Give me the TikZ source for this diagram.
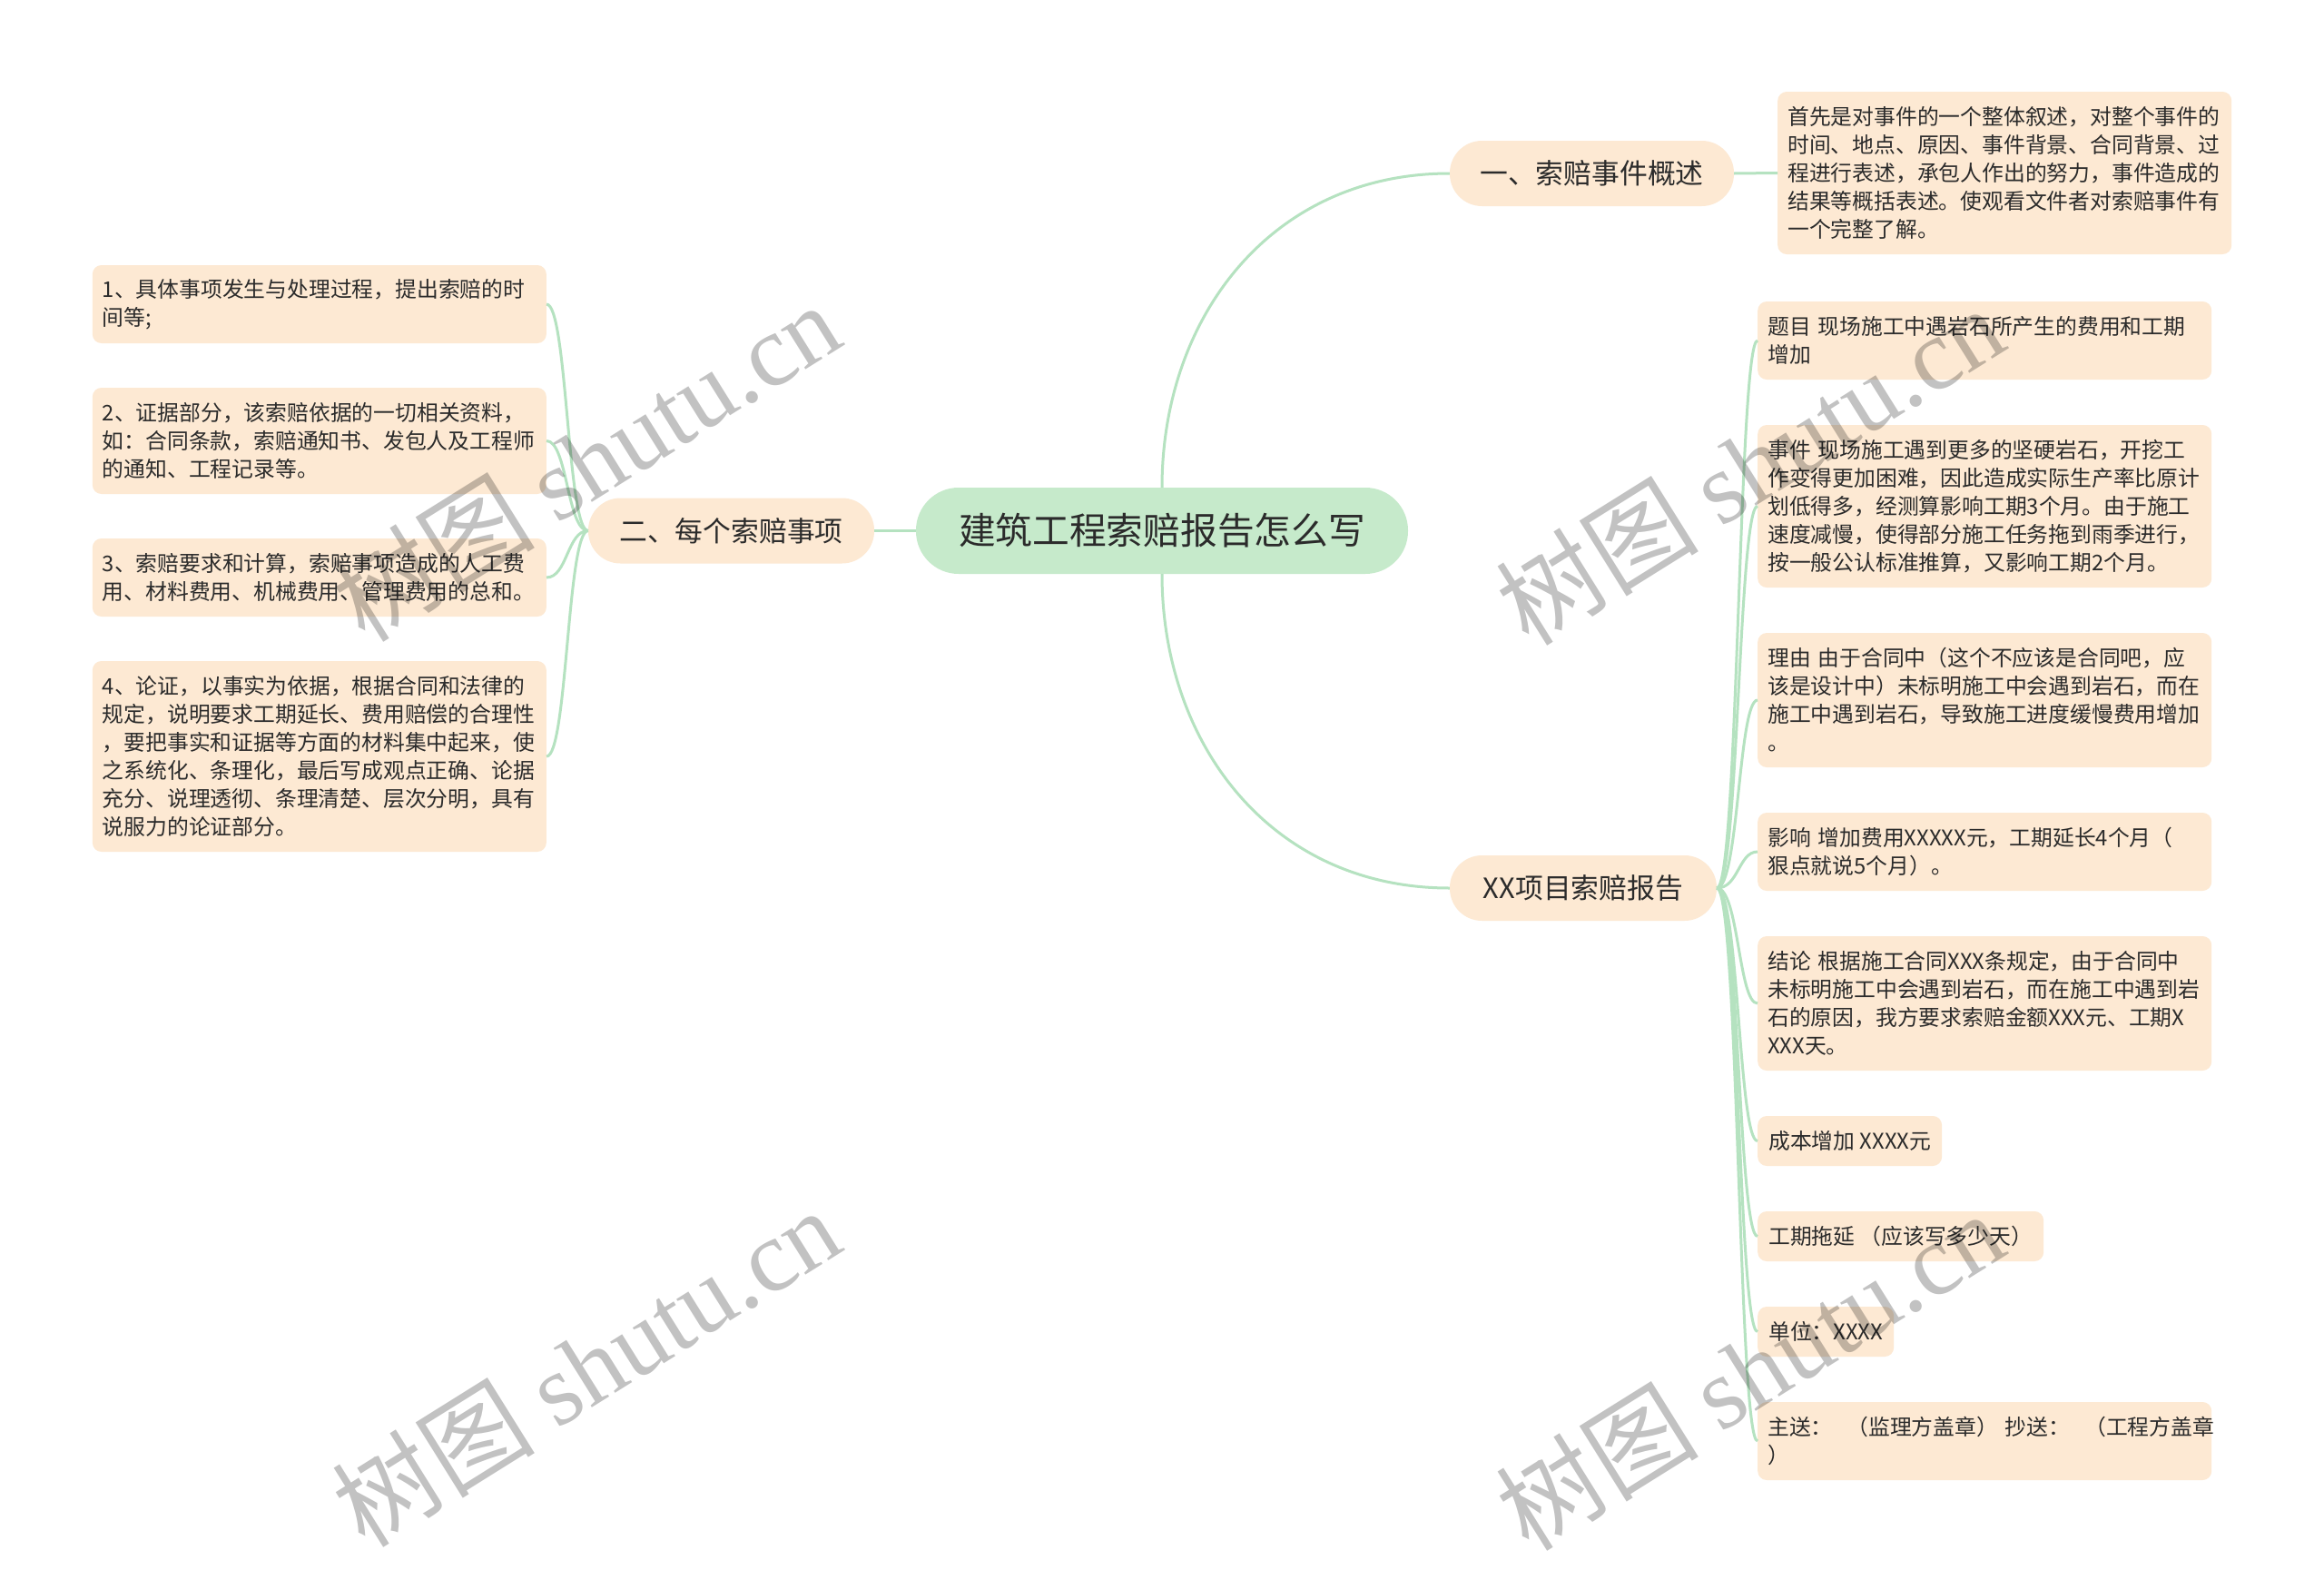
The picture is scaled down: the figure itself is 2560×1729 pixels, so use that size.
\documentclass[tikz,border=0pt]{standalone}
\usepackage{fontspec}
\setmainfont{Noto Sans CJK SC}
\newfontfamily\wmserif{Liberation Serif}
\definecolor{peach}{HTML}{FDE9D3}
\definecolor{rootgreen}{HTML}{C6EACB}
\definecolor{linkgreen}{HTML}{B5E2C0}
\definecolor{ink}{HTML}{2B2B2B}
\begin{document}
\begin{tikzpicture}[x=1pt,y=-1pt,
  every node/.style={text=ink},
  leaf/.style={fill=peach, rounded corners=10pt, inner xsep=11pt, inner ysep=0pt,
    text width=478pt, align=left, minimum height=#1,
    font=\fontsize{23.8pt}{31pt}\selectfont},
  leafs/.style={fill=peach, rounded corners=10pt, inner xsep=12pt, inner ysep=0pt,
    minimum height=55pt, anchor=west, font=\fontsize{23.8pt}{31pt}\selectfont},
  topic/.style={fill=peach, rounded corners=35.5pt, minimum height=72pt,
    minimum width=#1, inner sep=0pt, font=\fontsize{30.8pt}{36pt}\selectfont},
  rootbox/.style={fill=rootgreen, rounded corners=47pt, minimum height=95pt,
    minimum width=542pt, inner sep=0pt, font=\fontsize{40.7pt}{46pt}\selectfont},
  link/.style={draw=linkgreen, line width=3pt},
  wm/.style={text=black, text opacity=0.24, rotate=32,
    font=\fontsize{112pt}{124pt}\selectfont, inner sep=0pt}
]
\fill[white] (0,0) rectangle (2560,1729);
\path[use as bounding box] (0,0) rectangle (2560,1729);

% root and main topics
\node[rootbox] (root) at (1280,584.5) {建筑工程索赔报告怎么写};
\node[topic=315pt] (n2) at (805.5,584.5) {二、每个索赔事项};
\node[topic=313pt] (n1) at (1753.5,191) {一、索赔事件概述};
\node[topic=294pt] (xx) at (1744,978) {XX项目索赔报告};

% detail of topic 1
\node[leaf=179pt, anchor=west] (d1) at (1958,190.5) {首先是对事件的一个整体叙述，对整个事件的\\时间、地点、原因、事件背景、合同背景、过\\程进行表述，承包人作出的努力，事件造成的\\结果等概括表述。使观看文件者对索赔事件有\\一个完整了解。};

% right column
\node[leaf=86pt, anchor=west] (r1) at (1936,375) {题目~现场施工中遇岩石所产生的费用和工期\\增加};
\node[leaf=179pt, anchor=west] (r2) at (1936,557.5) {事件~现场施工遇到更多的坚硬岩石，开挖工\\作变得更加困难，因此造成实际生产率比原计\\划低得多，经测算影响工期3个月。由于施工\\速度减慢，使得部分施工任务拖到雨季进行，\\按一般公认标准推算，又影响工期2个月。};
\node[leaf=148pt, anchor=west] (r3) at (1936,771) {理由~由于合同中（这个不应该是合同吧，应\\该是设计中）未标明施工中会遇到岩石，而在\\施工中遇到岩石，导致施工进度缓慢费用增加\\。};
\node[leaf=86pt, anchor=west] (r4) at (1936,938) {影响~增加费用XXXXX元，工期延长4个月（\\狠点就说5个月）。};
\node[leaf=148pt, anchor=west] (r5) at (1936,1105) {结论~根据施工合同XXX条规定，由于合同中\\未标明施工中会遇到岩石，而在施工中遇到岩\\石的原因，我方要求索赔金额XXX元、工期X\\XXX天。};
\node[leafs] (r6) at (1936,1256.5) {成本增加 XXXX元};
\node[leafs] (r7) at (1936,1361.5) {工期拖延 （应该写多少天）};
\node[leafs] (r8) at (1936,1466.5) {单位：XXXX};
\node[leaf=86pt, anchor=west] (r9) at (1936,1587) {主送：~~（监理方盖章）~抄送：~~（工程方盖章\\）};

% left column
\node[leaf=86pt, anchor=east] (l1) at (602,335) {1、具体事项发生与处理过程，提出索赔的时\\间等;};
\node[leaf=117pt, anchor=east] (l2) at (602,485.5) {2、证据部分，该索赔依据的一切相关资料，\\如：合同条款，索赔通知书、发包人及工程师\\的通知、工程记录等。};
\node[leaf=86pt, anchor=east] (l3) at (602,636) {3、索赔要求和计算，索赔事项造成的人工费\\用、材料费用、机械费用、管理费用的总和。};
\node[leaf=210pt, anchor=east] (l4) at (602,833) {4、论证，以事实为依据，根据合同和法律的\\规定，说明要求工期延长、费用赔偿的合理性\\，要把事实和证据等方面的材料集中起来，使\\之系统化、条理化，最后写成观点正确、论据\\充分、说理透彻、条理清楚、层次分明，具有\\说服力的论证部分。};

% connectors
\draw[link] (root.north) .. controls +(0,-187) and +(-197,0) .. (n1.west);
\draw[link] (root.south) .. controls +(0,187) and +(-197,0) .. (xx.west);
\draw[link] (root.west) -- (n2.east);
\draw[link] (n1.east) -- (d1.west);
\foreach \c in {r1,r2,r3,r4,r5,r6,r7,r8,r9}
  \draw[link] (xx.east) .. controls +(24,0) and +(-21,0) .. (\c.west);
\foreach \c in {l1,l2,l3,l4}
  \draw[link] (n2.west) .. controls +(-23,0) and +(23,0) .. (\c.east);

% watermarks
\node[wm] (wm1) at (645,508) {树图 {\wmserif shutu.cn}};
\node[wm] (wm2) at (645,1505) {树图 {\wmserif shutu.cn}};
\node[wm] (wm3) at (1927,512) {树图 {\wmserif shutu.cn}};
\node[wm] (wm4) at (1927,1509) {树图 {\wmserif shutu.cn}};
\end{tikzpicture}
\end{document}
